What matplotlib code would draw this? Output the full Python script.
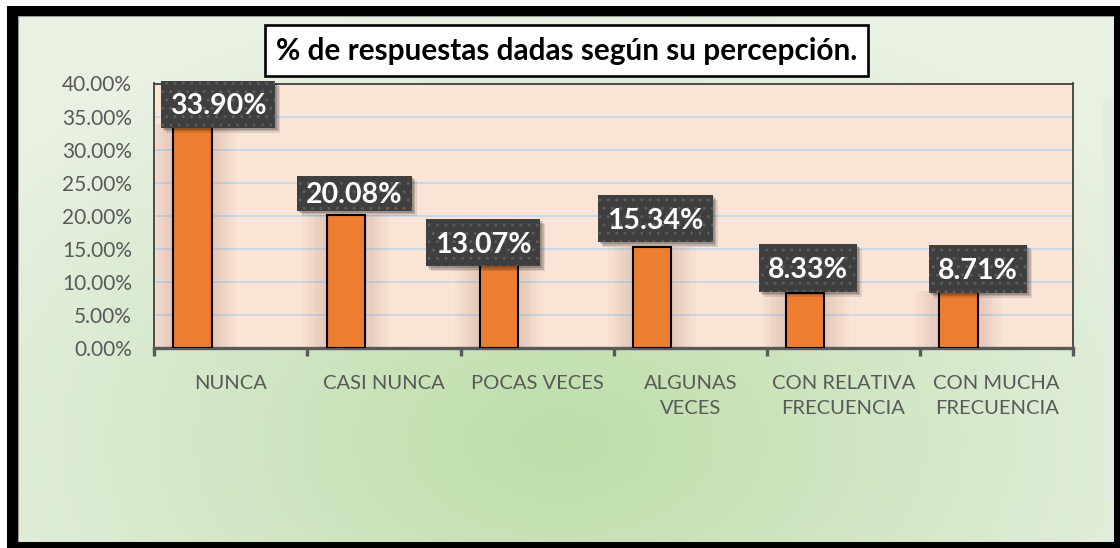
#!/usr/bin/env python3
"""Bar chart: % de respuestas dadas segun su percepcion."""

import os

os.environ.setdefault("MPLCONFIGDIR", "/tmp/matplotlib")

import numpy as np
import matplotlib

matplotlib.use("Agg")
import matplotlib.pyplot as plt
from matplotlib.colors import to_rgb
from matplotlib.patches import Rectangle


W_PX, H_PX, DPI = 1120, 548, 100

TITLE = "% de respuestas dadas según su percepción."
CATEGORIES = [
    "NUNCA",
    "CASI NUNCA",
    "POCAS VECES",
    "ALGUNAS\nVECES",
    "CON RELATIVA\nFRECUENCIA",
    "CON MUCHA\nFRECUENCIA",
]
PERCENTS = [33.90, 20.08, 13.07, 15.34, 8.33, 8.71]
Y_TICKS = [0, 5, 10, 15, 20, 25, 30, 35, 40]

# data labels were dragged by hand in the original, so keep their offsets
LABEL_DX = [-0.085, -0.194, -0.354, -0.227, -0.233, -0.121]
LABEL_DY = [2.93, 3.33, 2.84, 4.24, 3.83, 3.30]
LABEL_BOX_H = [47, 35, 47, 47, 48, 48]

FONT = ["Lato", "DejaVu Sans"]
ORANGE = "#ed7d31"
PLOT_BG = "#fae4d6"
GRID = "#bfd7ee"
AXIS_GRAY = "#595959"


def background(ax: plt.Axes) -> None:
    # greenish wash like the Excel chart area, strongest low in the middle
    xs = np.arange(W_PX)
    ys = np.arange(H_PX)
    gx, gy = np.meshgrid(xs, ys)
    d = np.sqrt(((gx - 560) / 700.0) ** 2 + ((gy - 440) / 440.0) ** 2)
    t = np.clip(d, 0, 1) ** 1.0
    inner = np.array(to_rgb("#bcdea9"))
    outer = np.array(to_rgb("#e9f1e3"))
    img = inner[None, None, :] * (1 - t[..., None]) + outer[None, None, :] * t[..., None]
    ax.imshow(img, extent=(0, W_PX, H_PX, 0), interpolation="bilinear", zorder=0)

    # light strip near the right edge
    ax.add_patch(Rectangle((1103, 100), 10, 400, facecolor="#e4ebe0", edgecolor="none", alpha=0.9, zorder=1))

    # thin gray inner border and the thick black frame
    ax.add_patch(Rectangle((18, 16), 1096, 526, facecolor="none", edgecolor="#9a9a9a", linewidth=0.8, zorder=2))
    ax.add_patch(Rectangle((0, 0), W_PX, 6, facecolor="white", edgecolor="none", zorder=3))
    ax.add_patch(Rectangle((0, 0), 7, H_PX, facecolor="white", edgecolor="none", zorder=3))
    for x, y, w, h in [(7, 6, W_PX - 7, 10), (7, 6, 11, H_PX - 6), (7, 542, W_PX - 7, 6), (1114, 6, 6, H_PX - 6)]:
        ax.add_patch(Rectangle((x, y), w, h, facecolor="black", edgecolor="none", zorder=4))

    # title box
    ax.add_patch(Rectangle((265, 25), 602.7, 51, facecolor="white", edgecolor="black", linewidth=1.9, zorder=5))
    ax.text(566.3, 51.0, TITLE, ha="center", va="center", fontsize=21.4, fontweight="bold",
            family=FONT, color="black", zorder=6)


def main() -> None:
    fig = plt.figure(figsize=(W_PX / DPI, H_PX / DPI), dpi=DPI)

    bg = fig.add_axes([0, 0, 1, 1], zorder=-10)
    bg.set_xlim(0, W_PX)
    bg.set_ylim(H_PX, 0)
    bg.axis("off")
    background(bg)

    left, right, top, bottom = 154.3, 1073.3, 83.5, 348.3
    ax = fig.add_axes([left / W_PX, 1 - bottom / H_PX, (right - left) / W_PX, (bottom - top) / H_PX], zorder=1)
    ax.set_facecolor(PLOT_BG)

    n = len(CATEGORIES)
    x = np.arange(n)
    ax.set_xlim(-0.5, n - 0.5)
    ax.set_ylim(0, 40)

    sx = ax.transData.transform((1, 0))[0] - ax.transData.transform((0, 0))[0]
    sy = ax.transData.transform((0, 1))[1] - ax.transData.transform((0, 0))[1]

    bar_x = x - 0.25
    bar_w = 0.25

    # soft shadow around each bar
    for k in range(1, 8):
        ax.bar(bar_x, PERCENTS, width=bar_w + 2 * k * 3.5 / sx, color="#a0705a", alpha=0.03,
               linewidth=0, zorder=1)

    ax.bar(bar_x, PERCENTS, width=bar_w, color=ORANGE, edgecolor="black", linewidth=1.5, zorder=3)

    ax.set_yticks(Y_TICKS, [f"{v:.2f}%" for v in Y_TICKS])
    ax.yaxis.grid(True, color=GRID, linewidth=1.2, zorder=0)
    ax.set_axisbelow(True)
    ax.tick_params(axis="y", length=0, pad=16, labelsize=15, labelcolor=AXIS_GRAY)

    ax.set_xticks(x, CATEGORIES)
    ax.set_xticks(np.arange(-0.5, n), minor=True)
    ax.tick_params(axis="x", which="major", length=0, pad=19, labelsize=14.5, labelcolor=AXIS_GRAY)
    ax.tick_params(axis="x", which="minor", length=6, width=2.4, color=AXIS_GRAY, direction="out")
    for label in ax.get_xticklabels():
        label.set_linespacing(1.62)
    for label in ax.get_xticklabels() + ax.get_yticklabels():
        label.set_family(FONT)

    for side in ("left", "right", "top"):
        ax.spines[side].set_color("#404040")
        ax.spines[side].set_linewidth(1.3)
    ax.spines["bottom"].set_color(AXIS_GRAY)
    ax.spines["bottom"].set_linewidth(2.4)

    # data labels: dark dotted boxes with a drop shadow
    texts = []
    for i, value in enumerate(PERCENTS):
        cx = i + LABEL_DX[i]
        cy = value + LABEL_DY[i]
        t = ax.text(cx, cy - 2.0 / sy, f"{value:.2f}%", ha="center", va="center", fontsize=20.5,
                    fontweight="bold", family=FONT, color="white", zorder=8, clip_on=False)
        texts.append((t, cx, cy))

    fig.canvas.draw()
    renderer = fig.canvas.get_renderer()
    for i, (t, cx, cy) in enumerate(texts):
        w_px = t.get_window_extent(renderer).width + 18
        h_px = LABEL_BOX_H[i]
        w = w_px / sx
        h = h_px / sy
        for off, alpha in [(5, 0.10), (3.5, 0.14), (2, 0.18)]:
            ax.add_patch(Rectangle((cx - w / 2 + off / sx, cy - h / 2 - off / sy), w, h, facecolor="black",
                                   edgecolor="none", alpha=alpha, zorder=6, clip_on=False))
        ax.add_patch(Rectangle((cx - w / 2, cy - h / 2), w, h, facecolor="#3f3f3f", edgecolor="#5c5c5c",
                               hatch="..", linewidth=0, zorder=7, clip_on=False))

    fig.savefig("out.png", dpi=DPI)
    plt.close(fig)


if __name__ == "__main__":
    main()
